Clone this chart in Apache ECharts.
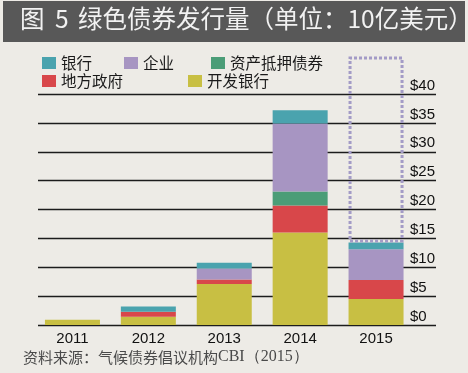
<!DOCTYPE html>
<html>
<head>
<meta charset="utf-8">
<script src="https://cdn.jsdelivr.net/npm/echarts@6/dist/echarts.min.js"></script>
<style>
html,body{margin:0;padding:0;background:#edebe6;}
#c{width:468px;height:373px;}
</style>
</head>
<body>
<div id="c"></div>
<script>
// ---- data (US$ billions) ----
var years = ['2011', '2012', '2013', '2014', '2015'];
var devBank   = [0.9, 1.45, 7.1, 16.0, 4.5];   // 开发银行
var municipal = [0,   0.85, 0.8, 4.7,  3.3];   // 地方政府
var abs       = [0,   0,    0,   2.4,  0];     // 资产抵押债券
var corporate = [0,   0,    1.9, 11.8, 5.3];   // 企业
var bank      = [0,   0.9,  1.0, 2.3,  1.2];   // 银行
var projectedTotal = [null, null, null, null, 46.5]; // 2015 projection (dashed box)
var yTicks = [0, 5, 10, 15, 20, 25, 30, 35, 40];

var seriesNames = ['银行', '企业', '资产抵押债券', '地方政府', '开发银行'];
var colors = {
  '银行': '#4aa3ae',
  '企业': '#a795c2',
  '资产抵押债券': '#4b9d77',
  '地方政府': '#d8474a',
  '开发银行': '#c8bf43'
};

var totals = years.map(function (_, i) {
  return devBank[i] + municipal[i] + abs[i] + corporate[i] + bank[i];
});
var projRemainder = projectedTotal.map(function (v, i) {
  return v == null ? '-' : +(v - totals[i]).toFixed(2);
});

var chart = echarts.init(document.getElementById('c'), null, {renderer: 'canvas'});
var cjk = '"Noto Sans CJK SC", sans-serif';
var latin = '"Liberation Sans", Arial, sans-serif';

function legendItem(name, left, top) {
  return {
    data: [name], left: left, top: top, padding: 0,
    icon: 'rect', itemWidth: 14, itemHeight: 12,
    selectedMode: false,
    textStyle: {fontSize: 15.5, color: '#1a1a1a', fontFamily: cjk, lineHeight: 16}
  };
}

function barSeries(name, data) {
  return {
    name: name, type: 'bar', stack: 'total', xAxisIndex: 1, yAxisIndex: 1,
    barWidth: 55, data: data,
    itemStyle: {color: colors[name]},
    emphasis: {disabled: true}
  };
}

var option = {
  backgroundColor: '#edebe6',
  animation: false,
  legend: [
    legendItem('银行', 42, 55),
    legendItem('企业', 124, 55),
    legendItem('资产抵押债券', 211, 55),
    legendItem('地方政府', 42, 73),
    legendItem('开发银行', 188, 73)
  ],
  graphic: [
    {type: 'rect', left: 3, top: 1, shape: {width: 462, height: 41}, style: {fill: '#585858'}, z: -1},
    {type: 'text', left: 20, top: 6, style: {text: '图', fontSize: 24.5, fill: '#f2f2f2', fontFamily: cjk}},
    {type: 'text', left: 55, top: 6, style: {text: '5', fontSize: 24.5, fill: '#f2f2f2', fontFamily: cjk}},
    {type: 'text', left: 78, top: 6, style: {text: '绿色债券发行量（单位：10亿美元）', fontSize: 24.5, fill: '#f2f2f2', fontFamily: cjk}},
    {type: 'text', left: 23, top: 349, style: {
      text: '资料来源：气候债券倡议机构{s|CBI（2015）}', fontSize: 15, fill: '#4a4a4a', fontFamily: cjk,
      rich: {s: {fontSize: 16, fill: '#4a4a4a', fontFamily: '"Liberation Serif", serif'}}
    }}
  ],
  grid: [
    {left: 38, right: 32, top: 94, bottom: 48},
    {left: 34.5, right: 54, top: 36.25, bottom: 48}
  ],
  xAxis: [
    {gridIndex: 0, type: 'value', show: false, min: 0, max: 1},
    {gridIndex: 1, type: 'category', data: years,
      axisLine: {show: false}, axisTick: {show: false},
      axisLabel: {fontSize: 15, color: '#111', fontFamily: latin, margin: 6}}
  ],
  yAxis: [
    {gridIndex: 0, type: 'value', position: 'right', min: yTicks[0], max: yTicks[yTicks.length - 1], interval: 5,
      axisLine: {show: false}, axisTick: {show: false},
      splitLine: {show: true, lineStyle: {color: '#1c1c1c', width: 1.3}},
      axisLabel: {inside: true, align: 'left', verticalAlign: 'bottom', margin: 26,
        fontSize: 15, color: '#111', fontFamily: latin, padding: [0, 0, 1, 0],
        formatter: function (v) { return '$' + v; }}
    },
    {gridIndex: 1, type: 'value', min: 0, max: 50, show: false, splitLine: {show: false}}
  ],
  series: [
    barSeries('开发银行', devBank),
    barSeries('地方政府', municipal),
    barSeries('资产抵押债券', abs),
    barSeries('企业', corporate),
    barSeries('银行', bank),
    {
      name: '预测', type: 'bar', stack: 'total', xAxisIndex: 1, yAxisIndex: 1,
      barWidth: 55, data: projRemainder,
      itemStyle: {color: 'rgba(0,0,0,0)', borderColor: '#a39bc6', borderWidth: 3, borderType: [3, 2]},
      emphasis: {disabled: true}
    }
  ]
};
chart.setOption(option);
</script>
</body>
</html>
